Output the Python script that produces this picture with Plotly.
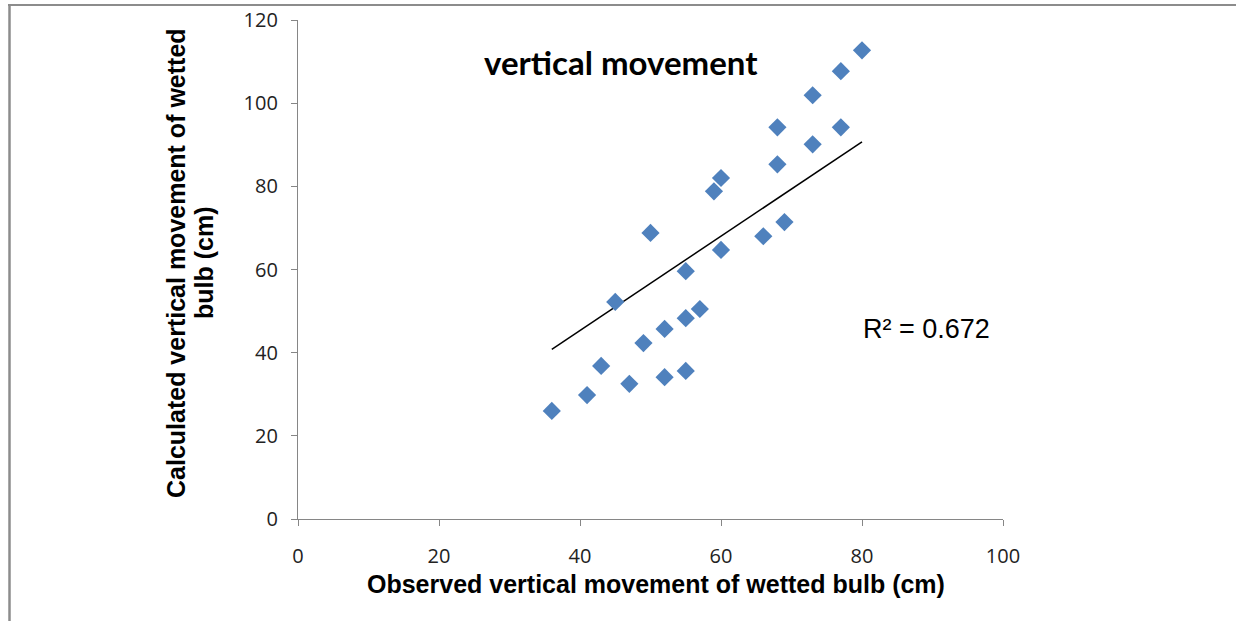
import plotly.graph_objects as go

# Data
observed = [36, 41, 43, 47, 45, 49, 50, 52, 52, 55, 55, 55, 57, 59, 60, 60,
            66, 68, 68, 69, 73, 73, 77, 77, 80]
calculated = [26.0, 29.8, 36.8, 32.5, 52.2, 42.3, 68.8, 45.7, 34.1, 59.6, 48.3,
              35.6, 50.5, 78.8, 82.0, 64.7, 68.0, 85.3, 94.2, 71.4, 90.1, 101.9,
              107.7, 94.2, 112.7]
trend_x = [36, 80]
trend_y = [40.8, 90.7]
x_ticks = [0, 20, 40, 60, 80, 100]
y_ticks = [0, 20, 40, 60, 80, 100, 120]

W, H = 1245, 621
L, R, T, B = 298, 1003, 20, 519  # plot area pixel bounds


def px(xp):
    return (xp - L) / (R - L)


def py(yp):
    return (B - yp) / (B - T)


fig = go.Figure()
fig.add_trace(go.Scatter(x=trend_x, y=trend_y, mode="lines",
                         line=dict(color="black", width=1.5),
                         showlegend=False, hoverinfo="skip"))
fig.add_trace(go.Scatter(x=observed, y=calculated, mode="markers",
                         marker=dict(symbol="diamond", size=14, color="#4F81BD",
                                     line=dict(width=0)),
                         showlegend=False))

axis_common = dict(showgrid=False, zeroline=False, showline=True,
                   automargin=False,
                   linecolor="#868686", linewidth=1.2, ticks="outside",
                   ticklen=6, tickcolor="#868686",
                   tickfont=dict(family="Open Sans, Liberation Sans, sans-serif",
                                 size=20, color="#222"))

fig.update_xaxes(range=[0, 100], tickvals=x_ticks, ticklabelstandoff=13,
                 **axis_common)
fig.update_yaxes(range=[0, 120], tickvals=y_ticks, ticklabelstandoff=9,
                 **axis_common)

title_font = dict(family="Liberation Sans, Arial, sans-serif", size=25,
                  color="black")
annotations = [
    dict(text="<b>vertical movement</b>", xref="paper", yref="paper",
         x=px(621), y=py(62), xanchor="center", yanchor="middle",
         showarrow=False,
         font=dict(family="Lato, Open Sans, sans-serif", size=33, color="black")),
    dict(text="R² = 0.672", xref="paper", yref="paper", x=px(861), y=py(329),
         xanchor="left", yanchor="middle", showarrow=False,
         font=dict(family="Liberation Sans, Arial, sans-serif", size=27,
                   color="black")),
    dict(text="<b>Observed vertical movement of wetted bulb (cm)</b>",
         xref="paper", yref="paper", x=px(656), y=py(584), xanchor="center",
         yanchor="middle", showarrow=False, font=title_font),
    dict(text="<b>Calculated vertical movement of wetted</b>", xref="paper",
         yref="paper", x=px(176), y=py(263), xanchor="center",
         yanchor="middle", textangle=-90, showarrow=False, font=title_font),
    dict(text="<b>bulb (cm)</b>", xref="paper", yref="paper", x=px(204),
         y=py(263), xanchor="center", yanchor="middle", textangle=-90,
         showarrow=False, font=title_font),
]

shapes = [
    dict(type="line", xref="paper", yref="paper", x0=px(8), x1=px(1236),
         y0=py(5), y1=py(5), line=dict(color="#8c8c8c", width=2)),
    dict(type="line", xref="paper", yref="paper", x0=px(9.5), x1=px(9.5),
         y0=py(5), y1=py(625), line=dict(color="#8c8c8c", width=2.5)),
]

fig.update_layout(width=W, height=H,
                  margin=dict(l=L, r=W - R, t=T, b=H - B, pad=0),
                  plot_bgcolor="white", paper_bgcolor="white",
                  annotations=annotations, shapes=shapes, showlegend=False)

fig.write_html("out.html")
